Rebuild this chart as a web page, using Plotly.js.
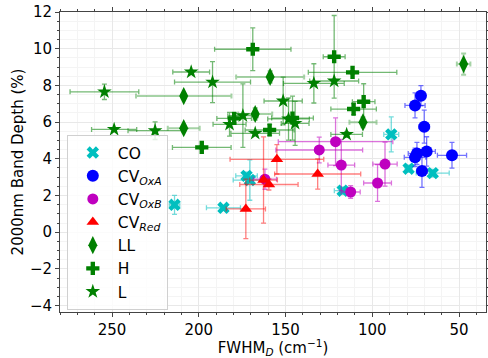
<!DOCTYPE html>
<html><head><meta charset="utf-8">
<script src="https://cdn.plot.ly/plotly-3.0.1.min.js"></script>
<style>html,body{margin:0;padding:0;background:#fff}#c{width:488px;height:358px}</style>
</head><body><div id="c"></div>
<script>
// CO
const coX = [214, 185.8, 172.5, 170.6, 117.1, 79.1, 65.2, 89.1];
const coY = [1.49, 1.33, 3.07, 2.84, 2.26, 3.46, 3.22, 5.33];
const coXe = [3, 9.8, 6.2, 9.6, 4.8, 2, 9.5, 4.3];
const coYe = [0.52, 0.1, 0.2, 1.1, 0.2, 0.2, 0.2, 0.95];
// CV OxA
const oxaX = [72, 75.4, 70.1, 74.3, 68.7, 75.4, 54.1, 71.4];
const oxaY = [7.44, 6.91, 5.75, 4.29, 4.4, 4.08, 4.19, 3.33];
const oxaXe = [2.5, 5.8, 3, 5, 5, 6.2, 8.4, 3];
const oxaYe = [0.55, 0.68, 0.9, 0.6, 0.8, 0.5, 0.7, 0.89];
// CV OxB
const oxbX = [130.6, 121.2, 117.9, 112.5, 97, 92.7, 161.9];
const oxbY = [4.48, 4.93, 3.66, 2.19, 2.68, 3.71, 2.89];
const oxbXe = [25, 33, 7.7, 5.5, 8, 7, 6.7];
const oxbYe = [0.7, 1.3, 1.4, 0.35, 1.0, 1.2, 0.55];
// CV Red
const redX = [155, 131.5, 162.7, 159.6, 172.9];
const redY = [3.97, 3.17, 2.84, 2.6, 1.27];
const redXe = [27, 24.8, 8, 16.8, 11.3];
const redYe = [0.8, 0.82, 2.35, 0.3, 1.62];
// LL
const llX = [208.7, 208.7, 158.9, 167.5, 105.4, 47.4];
const llY = [7.42, 5.67, 8.46, 6.44, 5.99, 9.16];
const llXe = [27.5, 9.2, 19.6, 9.8, 7.8, 3.9];
const llYe = [0.1, 0.1, 0.32, 0.33, 0.27, 0.58];
// H
const hX = [168.9, 198.3, 122, 111.4, 105, 110.8, 159.2, 179.6, 146];
const hY = [9.97, 4.62, 9.56, 8.71, 7.11, 6.71, 5.57, 6.2, 6.22];
const hXe = [22, 16.9, 6.3, 25.5, 6.5, 13.1, 14.1, 10, 12];
const hYe = [1.16, 0.1, 2.25, 0.1, 0.98, 0.3, 0.3, 0.3, 1.2];
// L
const lX = [254.4, 204.4, 192.1, 248.8, 225.2, 151.4, 133.7, 122, 114.8, 182.3, 174.6, 167.5, 148.3, 144.5];
const lY = [7.65, 8.73, 8.18, 5.6, 5.53, 7.15, 8.11, 8.24, 5.33, 5.88, 6.35, 5.39, 6.17, 5.93];
const lXe = [19.8, 10.6, 21.9, 13, 15.6, 11, 17.5, 14.1, 9.1, 9.5, 8.7, 14, 12, 8];
const lYe = [0.42, 0.1, 1.12, 0.1, 0.48, 1.3, 1.07, 0.1, 0.15, 0.65, 1.73, 0.1, 1.15, 1.2];

const names = ['CO', 'CV<sub><i>OxA</i></sub>', 'CV<sub><i>OxB</i></sub>', 'CV<sub><i>Red</i></sub>', 'LL', 'H', 'L'];

function tr(name, x, y, xe, ye, color, ecolor, symbol, size, ethick) {
  return {
    type: 'scatter', mode: 'markers', name: name, x: x, y: y,
    marker: {color: color, symbol: symbol, size: size, line: {width: 0}},
    error_x: {type: 'data', array: xe, visible: true, color: ecolor, thickness: ethick, width: 2.5},
    error_y: {type: 'data', array: ye, visible: true, color: ecolor, thickness: ethick, width: 2.5}
  };
}
const data = [
  tr(names[0], coX, coY, coXe, coYe, '#00bfbf', 'rgba(0,191,191,0.55)', 'x', 11, 1.3),
  tr(names[1], oxaX, oxaY, oxaXe, oxaYe, '#0000ff', 'rgba(0,0,255,0.55)', 'circle', 12, 1.3),
  tr(names[2], oxbX, oxbY, oxbXe, oxbYe, '#bf00bf', 'rgba(191,0,191,0.55)', 'circle', 11, 1.3),
  tr(names[3], redX, redY, redXe, redYe, '#ff0000', 'rgba(255,0,0,0.5)', 'triangle-up', 11, 1.3),
  tr(names[4], llX, llY, llXe, llYe, '#008000', 'rgba(0,128,0,0.35)', 'diamond-tall', 13, 2),
  tr(names[5], hX, hY, hXe, hYe, '#008000', 'rgba(0,128,0,0.55)', 'cross', 11, 1.3),
  tr(names[6], lX, lY, lXe, lYe, '#008000', 'rgba(0,128,0,0.55)', 'star', 11, 1.3)
];

const axisCommon = {
  showline: true, linecolor: '#444', linewidth: 1, mirror: 'allticks',
  ticks: 'outside', ticklen: 4, tickcolor: '#444', tickwidth: 1,
  showgrid: true, gridcolor: '#e8e8e8', gridwidth: 1, zeroline: false,
  tickfont: {family: 'DejaVu Sans', size: 15, color: '#000'}
};
const layout = {
  width: 488, height: 358,
  margin: {l: 60, r: 2, t: 12, b: 46},
  paper_bgcolor: '#fff', plot_bgcolor: '#fff',
  font: {family: 'DejaVu Sans', color: '#000'},
  showlegend: true,
  xaxis: Object.assign({}, axisCommon, {
    range: [280, 34.5], dtick: 50, tick0: 0,
    minor: {dtick: 10, ticks: 'outside', ticklen: 2, tickcolor: '#444', showgrid: true, gridcolor: '#f4f4f4'},
    title: {text: 'FWHM<sub><i>D</i></sub> (cm<sup>−1</sup>)', font: {family: 'DejaVu Sans', size: 15}, standoff: 1}
  }),
  yaxis: Object.assign({}, axisCommon, {
    range: [-4.35, 12], dtick: 2, tick0: 0,
    minor: {dtick: 0.5, ticks: 'outside', ticklen: 2, tickcolor: '#444', showgrid: true, gridcolor: '#f4f4f4'},
    title: {text: '2000nm Band Depth (%)', font: {family: 'DejaVu Sans', size: 15}, standoff: 2}
  }),
  legend: {
    x: 0.016, y: 0.59, xanchor: 'left', yanchor: 'top',
    bgcolor: 'rgba(255,255,255,0.8)', bordercolor: '#d0d0d0', borderwidth: 1,
    font: {family: 'DejaVu Sans', size: 15.5, color: '#000'},
    tracegroupgap: 0, itemwidth: 40
  }
};
Plotly.newPlot('c', data, layout, {displayModeBar: false, staticPlot: true});
</script>
</body></html>
